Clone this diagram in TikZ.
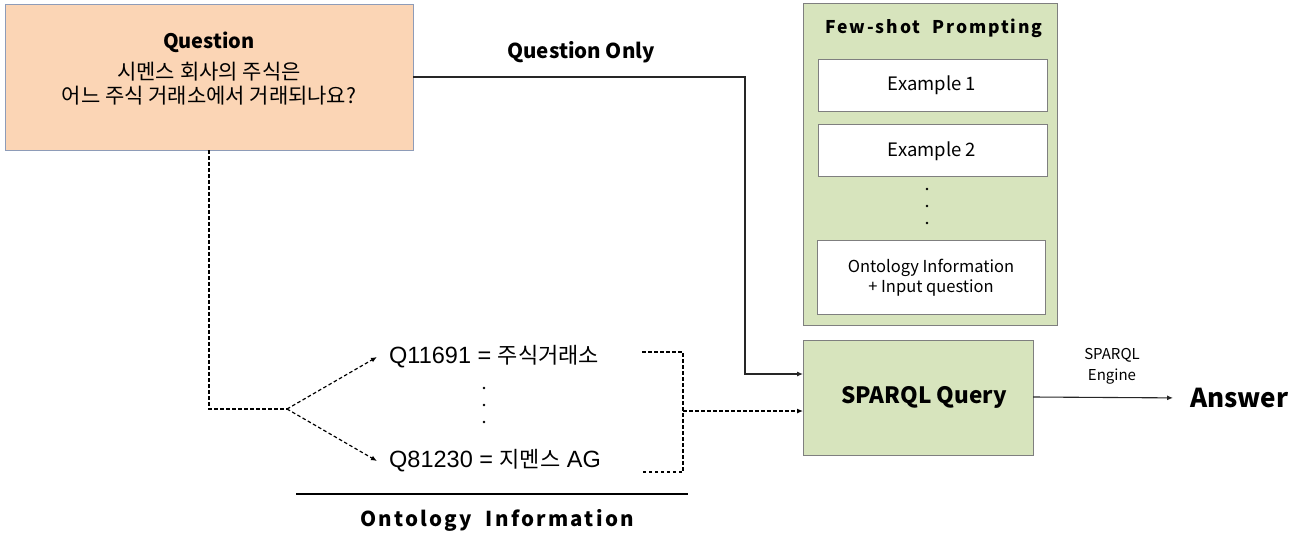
\documentclass[tikz,border=0pt]{standalone}
\usepackage{fontspec}
\setmainfont{Noto Sans CJK KR}
\newfontfamily\spaced[LetterSpace=11]{Noto Sans CJK KR}
\newfontfamily\qfont{Liberation Sans}
\newfontfamily\kfont{Noto Sans CJK KR}
\usetikzlibrary{arrows.meta}
\definecolor{peach}{HTML}{FBD5B5}
\definecolor{sage}{HTML}{D7E4BD}
\definecolor{qborder}{HTML}{8E9CB8}
\definecolor{gborder}{HTML}{7F7F7F}
\tikzset{
  conn/.style={line width=1.1pt, draw=black!85},
  dconn/.style={line width=1.2pt, draw=black, dash pattern=on 3.5pt off 2.5pt},
  tip/.style={-{Latex[length=6pt,width=5pt]}},
  whitebox/.style={draw=gborder, fill=white, line width=0.8pt, inner sep=0pt},
  txt/.style={inner sep=0pt, align=center},
}
\begin{document}
\begin{tikzpicture}[x=1pt,y=-1pt]
\useasboundingbox (0,0) rectangle (1301,536);
% Question box
\draw[draw=qborder, fill=peach, line width=0.9pt] (5,4) rectangle (413,150);
\coordinate (qR) at (413,77);
\coordinate (qB) at (209,150);
\node[txt, font=\fontsize{20}{24}\selectfont\bfseries] (qt) at (209,42) {Question};
\node[txt, font=\fontsize{21}{24}\selectfont] (qk) at (209,84) {시멘스 회사의 주식은\\어느 주식 거래소에서 거래되나요?};
% Question Only
\node[txt, font=\fontsize{20.5}{22}\selectfont\bfseries] (qo) at (581,52) {Question Only};
% Few-shot box
\draw[draw=gborder, fill=sage, line width=0.9pt] (803,3) rectangle (1057,325);
\node[txt, font=\fontsize{17.5}{20}\selectfont\spaced\bfseries] (fs) at (934,28) {Few-shot\,\, Prompting};
\draw[whitebox] (818,59) rectangle (1047,111);
\node[txt, font=\fontsize{18.5}{20}\selectfont] (e1) at (932,85) {Example 1};
\draw[whitebox] (818,124) rectangle (1047,176);
\node[txt, font=\fontsize{18.5}{20}\selectfont] (e2) at (932,151) {Example 2};
\foreach \yy in {189,206,223} \fill (927,\yy) circle (1.4pt);
\draw[whitebox] (817,240) rectangle (1045,314);
\node[txt, font=\fontsize{16.5}{20}\selectfont] (oi) at (931,278) {Ontology Information\\+ Input question};
% SPARQL Query
\draw[draw=gborder, fill=sage, line width=0.9pt] (803,340) rectangle (1033,455);
\node[txt, font=\fontsize{22.5}{24}\selectfont\bfseries] (sq) at (924,397) {SPARQL Query};
\coordinate (sqL1) at (803,374);
\coordinate (sqL2) at (803,411);
\coordinate (sqR) at (1033,397);
% Answer
\node[txt, font=\fontsize{26}{28}\selectfont\bfseries, anchor=west, inner xsep=0pt] (ans) at (1190,398) {Answer};
\node[txt, font=\fontsize{15}{21}\selectfont] (eng) at (1112,366) {SPARQL\\Engine};
\draw[conn, tip, shorten >=17pt] (sqR) -- (ans.west);
% Question only connector
\draw[conn, tip] (qR) -- (745,77) -- (745,374) -- (sqL1);
% Ontology items
\node[txt, anchor=west, inner xsep=12pt, font=\fontsize{23.5}{24}\selectfont\qfont] (o1) at (377,357) {Q11691 = {\kfont\fontsize{22}{24}\selectfont 주식거래소}};
\node[txt, anchor=west, inner xsep=12pt, font=\fontsize{23.5}{24}\selectfont\qfont] (o2) at (377,461) {Q81230 = {\kfont\fontsize{22}{24}\selectfont 지멘스} AG};
\foreach \yy in {388,405,422} \fill (484,\yy) circle (1.4pt);
\coordinate (split) at (287,409);
\draw[dconn] (qB) -- (209,409) -- (split);
\draw[dconn, tip] (split) -- (o1.west);
\draw[dconn, tip] (split) -- (o2.west);
% bracket
\coordinate (br) at (683,411);
\draw[dconn] (642,352) -- (683,352) -- (683,472) -- (642,472);
\draw[dconn, tip] (br) -- (sqL2);
% underline and label
\draw[line width=1.4pt] (296,494) -- (688,494);
\node[txt, font=\fontsize{20.5}{22}\selectfont\spaced\bfseries] (ol) at (497,520) {Ontology\,\, Information};
\end{tikzpicture}
\end{document}
